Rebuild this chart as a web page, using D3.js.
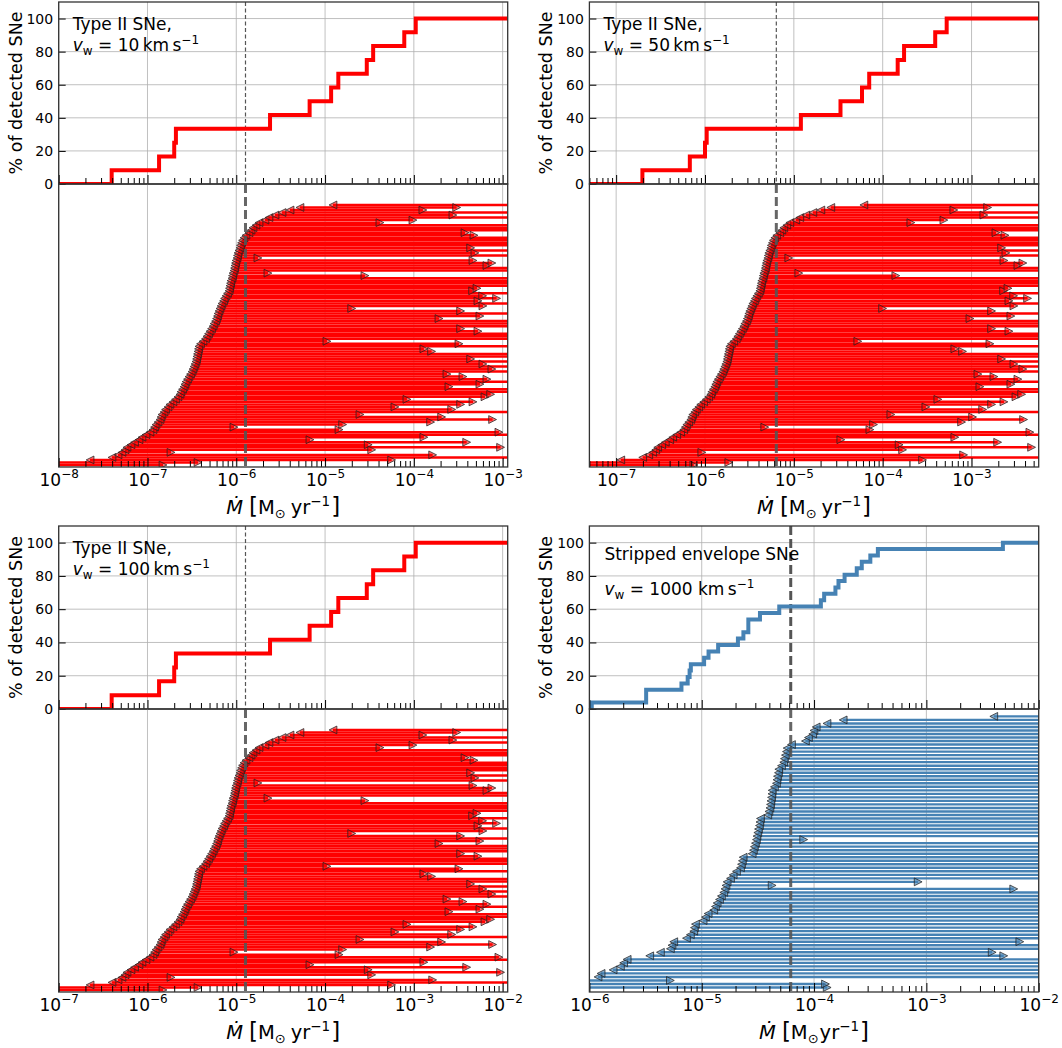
<!DOCTYPE html>
<html>
<head>
<meta charset="utf-8">
<script src="https://cdn.jsdelivr.net/npm/d3@7"></script>
<style>
  body { margin: 0; background: #fff; }
  svg { display: block; }
  text { font-family: "DejaVu Sans", sans-serif; fill: #000; }
</style>
</head>
<body>
<svg id="fig" width="1062" height="1048"></svg>
<script>
// ---------------- data ----------------
// Type II SNe, mass-loss rates for v_w = 10 km/s (other wind speeds scale linearly)
const typeIIDetected = [3.95e-8, 1.35e-7, 2.0e-7, 2.09e-7, 2.4e-6, 6.7e-6,
                        1.17e-5, 1.41e-5, 2.95e-5, 3.48e-5, 7.8e-5, 1.05e-4];
// log10 of lower / upper limits per non-detected SN (null = unconstrained)
const typeIILowerLog = [
  null, null, -7.647, -7.40, -7.332, -7.287, -7.253, -7.231, -7.186, -7.146,
  -7.096, -7.062, -7.017, -6.972, -6.938, -6.921, -6.904, -6.882, -6.859, -6.848,
  -6.837, -6.814, -6.797, -6.769, -6.747, -6.713, -6.685, -6.657, -6.634, -6.623,
  -6.606, -6.589, -6.578, -6.566, -6.550, -6.533, -6.516, -6.499, -6.488, -6.476,
  -6.465, -6.454, -6.448, -6.443, -6.437, -6.431, -6.426, -6.420, -6.403, -6.375,
  -6.347, -6.330, -6.313, -6.296, -6.279, -6.262, -6.251, -6.234, -6.223, -6.212,
  -6.206, -6.195, -6.184, -6.172, -6.161, -6.144, -6.133, -6.116, -6.099, -6.082,
  -6.077, -6.071, -6.065, -6.060, -6.048, -6.043, -6.037, -6.026, -6.020, -6.015,
  -6.009, -6.003, -5.992, -5.987, -5.981, -5.970, -5.958, -5.953, -5.941, -5.930,
  -5.913, -5.891, -5.857, -5.834, -5.812, -5.778, -5.744, -5.677, -5.632, -5.564,
  -5.485, -5.395, -5.283, -4.911];
const typeIIUpperLog = [
  -6.825, -6.431, -4.250, null, -3.788, -6.735, -4.475, -3.023, -4.514, -3.405,
  -5.170, -3.887, null, -3.042, -4.843, -6.026, -4.802, -3.811, -3.113, -3.687,
  -4.607, null, -3.574, -4.213, -3.473, -3.334, -4.078, -3.199, -3.135, null,
  null, -3.605, -3.256, null, -3.177, -3.447, -3.627, null, -3.121, null,
  -3.222, null, -3.360, null, null, -3.800, -3.887, null, -3.492, -4.979,
  null, null, null, -3.278, -3.473, null, null, null, -3.717, -3.256,
  null, -3.473, -4.700, -3.222, null, -3.278, -3.068, -3.225, null, -3.338,
  -3.289, null, null, null, null, -4.551, -5.643, null, null, -3.177,
  -3.121, -3.334, -5.756, null, -3.312, null, -3.360, null, null, null,
  null, -3.323, -3.424, null, null, null, -4.382, -4.010, null, -3.560,
  null, -3.898, -3.518, null];
const typeIIMedian = 1.27e-6;

// Stripped envelope SNe, v_w = 1000 km/s
const strippedDetected = [1.05e-6, 3.2e-6, 3.2e-6, 6.6e-6, 7.5e-6, 7.8e-6, 8.0e-6,
  1.05e-5, 1.15e-5, 1.4e-5, 2.1e-5, 2.35e-5, 2.6e-5, 2.6e-5, 3.3e-5, 4.9e-5,
  1.15e-4, 1.23e-4, 1.55e-4, 1.65e-4, 1.87e-4, 2.4e-4, 2.66e-4, 3.17e-4, 3.7e-4, 4.8e-3];
const strippedLowerLog = [
  null, null, null, -5.923, -5.896, -5.789, -5.724, -5.695, -5.664, -5.463,
  -5.368, -5.279, -5.265, -5.249, -5.136, -5.101, -5.071, -5.065, -5.056, -4.988,
  -4.967, -4.943, -4.893, -4.878, -4.863, -4.842, -4.825, -4.804, -4.793, -4.784,
  -4.774, -4.744, -4.720, -4.691, -4.655, -4.646, -4.638, -4.631, -4.551, -4.540,
  -4.531, -4.522, -4.513, -4.508, -4.501, -4.495, -4.486, -4.482, -4.477, -4.412,
  -4.402, -4.393, -4.388, -4.384, -4.379, -4.375, -4.373, -4.353, -4.335, -4.330,
  -4.326, -4.317, -4.314, -4.290, -4.270, -4.264, -4.255, -4.246, -4.240, -4.201,
  -4.077, -4.050, -4.012, -4.001, -3.981, -3.885, -3.741, -2.400];
const strippedUpperLog = [
  -3.883, -3.898, -5.279, null, null, null, null, null, null, -2.311,
  -2.414, null, null, -2.168, null, null, null, null, null, null,
  null, null, null, null, null, null, null, null, -2.222, -4.373,
  -3.073, null, null, null, null, null, null, null, null, null,
  null, null, -4.092, null, null, null, null, null, null, null,
  null, null, null, null, null, null, null, null, null, null,
  null, null, null, null, null, null, null, null, null, null,
  null, null, null, null, null, null, null, null];
const strippedMedian = 6.2e-5;

const percentTicks = [0, 20, 40, 60, 80, 100];

// ---------------- layout ----------------
const COLS = [[58.7, 507.7], [589.4, 1038.7]];
const ROWS = [{ top: [2, 184], bot: [184, 467] }, { top: [526, 709], bot: [709, 992] }];
const RED = "#ff0000", BLUE = "#4682b4";

const sets = {
  II: { detected: typeIIDetected, lower: typeIILowerLog, upper: typeIIUpperLog,
        median: typeIIMedian, vwRef: 10, color: RED, rowDomain: [-0.8, 111.3],
        barWidth: 2.5, thinMedianTop: true },
  SE: { detected: strippedDetected, lower: strippedLowerLog, upper: strippedUpperLog,
        median: strippedMedian, vwRef: 1000, color: BLUE, rowDomain: [-1.28, 79.1],
        barWidth: 2.4, thinMedianTop: false }
};

const panels = [
  { set: "II", vw: 10,   col: 0, row: 0, xDomain: [1e-8, 1.14e-3], exps: [-8, -7, -6, -5, -4, -3] },
  { set: "II", vw: 50,   col: 1, row: 0, xDomain: [5e-8, 5.7e-3],  exps: [-7, -6, -5, -4, -3] },
  { set: "II", vw: 100,  col: 0, row: 1, xDomain: [1e-7, 1.14e-2], exps: [-7, -6, -5, -4, -3, -2] },
  { set: "SE", vw: 1000, col: 1, row: 1, xDomain: [1e-6, 1e-2],    exps: [-6, -5, -4, -3, -2] }
];

const svg = d3.select("#fig");
const defs = svg.append("defs");
let clipCount = 0;
function clip(x0, y0, x1, y1) {
  const id = "clip" + (clipCount++);
  defs.append("clipPath").attr("id", id).append("rect")
    .attr("x", x0).attr("y", y0).attr("width", x1 - x0).attr("height", y1 - y0);
  return `url(#${id})`;
}

function minorValues(domain) {
  const out = [];
  const k0 = Math.floor(Math.log10(domain[0])), k1 = Math.ceil(Math.log10(domain[1]));
  for (let k = k0; k <= k1; k++)
    for (let m = 2; m <= 9; m++) {
      const v = m * Math.pow(10, k);
      if (v >= domain[0] && v <= domain[1]) out.push(v);
    }
  return out;
}

function triangle(cx, cy, dir, h) {
  // dir = -1 points left, +1 points right
  return `M${cx + dir * h},${cy}L${cx - dir * h},${cy - h}L${cx - dir * h},${cy + h}Z`;
}

function inwardXTicks(g, x, yPix, majors, minors) {
  const major = g.append("g").attr("transform", `translate(0,${yPix})`)
    .call(d3.axisBottom(x).tickValues(majors).tickSize(-9).tickFormat(() => ""));
  const minor = g.append("g").attr("transform", `translate(0,${yPix})`)
    .call(d3.axisBottom(x).tickValues(minors).tickSize(-6).tickFormat(() => ""));
  [major, minor].forEach(a => {
    a.select(".domain").remove();
    a.selectAll("line").attr("stroke", "#000").attr("stroke-width", 1);
  });
  return major;
}

function drawPanel(p) {
  const S = sets[p.set];
  const [x0, x1] = COLS[p.col];
  const R = ROWS[p.row];
  const f = p.vw / S.vwRef;
  const x = d3.scaleLog().domain(p.xDomain).range([x0, x1]);
  const yT = d3.scaleLinear().domain([0, 110]).range([R.top[1], R.top[0]]);
  const yB = d3.scaleLinear().domain(S.rowDomain).range([R.bot[1], R.bot[0]]);
  const majors = p.exps.map(e => Math.pow(10, e));
  const minors = minorValues(p.xDomain);
  const g = svg.append("g");

  // ---- top axes: cumulative fraction of detections ----
  const gt = g.append("g");
  gt.append("g").selectAll("line.v").data(majors).join("line")
    .attr("x1", d => x(d)).attr("x2", d => x(d)).attr("y1", R.top[0]).attr("y2", R.top[1])
    .attr("stroke", "#b0b0b0").attr("stroke-width", 0.8);
  gt.append("g").selectAll("line.h").data(percentTicks).join("line")
    .attr("x1", x0).attr("x2", x1).attr("y1", d => yT(d)).attr("y2", d => yT(d))
    .attr("stroke", "#b0b0b0").attr("stroke-width", 0.8);

  const det = S.detected.map(d => d * f).sort((a, b) => a - b);
  const n = det.length;
  const pts = [[p.xDomain[0], 0]].concat(det.map((d, i) => [d, 100 * (i + 1) / n]), [[p.xDomain[1], 100]]);
  const med = S.median * f;
  gt.append("line")
    .attr("x1", x(med)).attr("x2", x(med)).attr("y1", R.top[0]).attr("y2", R.top[1])
    .attr("stroke", "#555").attr("stroke-width", S.thinMedianTop ? 1.2 : 3)
    .attr("stroke-dasharray", S.thinMedianTop ? "4,2.5" : "9,4");
  gt.append("path").datum(pts)
    .attr("clip-path", clip(x0, R.top[0], x1, R.top[1]))
    .attr("d", d3.line().x(d => x(d[0])).y(d => yT(d[1])).curve(d3.curveStepAfter))
    .attr("fill", "none").attr("stroke", S.color).attr("stroke-width", 4);

  inwardXTicks(gt, x, R.top[1], majors, minors);
  const ya = gt.append("g").attr("transform", `translate(${x0},0)`)
    .call(d3.axisLeft(yT).tickValues(percentTicks).tickSize(-7).tickPadding(5.5));
  ya.select(".domain").remove();
  ya.selectAll("line").attr("stroke", "#000");
  ya.selectAll("text").attr("font-family", "DejaVu Sans").attr("font-size", 14).attr("fill", "#000");
  gt.append("rect").attr("x", x0).attr("y", R.top[0]).attr("width", x1 - x0).attr("height", R.top[1] - R.top[0])
    .attr("fill", "none").attr("stroke", "#333").attr("stroke-width", 1.3);

  // y label
  g.append("text")
    .attr("transform", `translate(${x0 - 37},${(R.top[0] + R.top[1]) / 2}) rotate(-90)`)
    .attr("text-anchor", "middle").attr("font-size", 17.5)
    .text("% of detected SNe");

  // ---- bottom axes: limits per SN ----
  const gb = g.append("g");
  gb.append("g").selectAll("line").data(majors).join("line")
    .attr("x1", d => x(d)).attr("x2", d => x(d)).attr("y1", R.bot[0]).attr("y2", R.bot[1])
    .attr("stroke", "#b0b0b0").attr("stroke-width", 0.8);

  const rows = S.lower.map((lo, i) => ({
    i,
    lo: lo === null ? null : Math.pow(10, lo) * f,
    hi: S.upper[i] === null ? null : Math.pow(10, S.upper[i]) * f
  }));
  const gc = gb.append("g").attr("clip-path", clip(x0, R.bot[0], x1, R.bot[1]));
  gc.append("g").selectAll("line").data(rows).join("line")
    .attr("x1", d => d.lo === null ? x0 - 5 : x(d.lo))
    .attr("x2", d => d.hi === null ? x1 + 5 : x(d.hi))
    .attr("y1", d => yB(d.i)).attr("y2", d => yB(d.i))
    .attr("stroke", S.color).attr("stroke-width", S.barWidth);

  gb.append("line")
    .attr("x1", x(med)).attr("x2", x(med)).attr("y1", R.bot[0]).attr("y2", R.bot[1])
    .attr("stroke", "#555").attr("stroke-opacity", 0.9).attr("stroke-width", 3).attr("stroke-dasharray", "9,4");

  const markerStyle = sel => sel.attr("fill", S.color).attr("fill-opacity", S.color === RED ? 0.55 : 0.65)
    .attr("stroke", "#222").attr("stroke-opacity", 0.75).attr("stroke-width", 1);
  gc.append("g").selectAll("path").data(rows.filter(d => d.lo !== null)).join("path")
    .attr("d", d => triangle(x(d.lo), yB(d.i), -1, 3.9)).call(markerStyle);
  gc.append("g").selectAll("path").data(rows.filter(d => d.hi !== null)).join("path")
    .attr("d", d => triangle(x(d.hi), yB(d.i), 1, 3.9)).call(markerStyle);

  const xa = inwardXTicks(gb, x, R.bot[1], majors, minors);
  xa.selectAll(".tick").each(function (d) {
    const t = d3.select(this).select("text");
    t.text(null).attr("y", 19).attr("dy", null).attr("font-family", "DejaVu Sans")
      .attr("font-size", 17).attr("fill", "#000").attr("text-anchor", "middle");
    t.append("tspan").text("10");
    t.append("tspan").attr("font-size", 12).attr("dy", -8).text("\u2212" + Math.abs(Math.round(Math.log10(d))));
  });
  gb.append("rect").attr("x", x0).attr("y", R.bot[0]).attr("width", x1 - x0).attr("height", R.bot[1] - R.bot[0])
    .attr("fill", "none").attr("stroke", "#333").attr("stroke-width", 1.3);

  // x label
  const xl = g.append("text").attr("x", (x0 + x1) / 2).attr("y", R.bot[1] + 47)
    .attr("text-anchor", "middle").attr("font-size", 19.5);
  xl.append("tspan").attr("font-style", "italic").text("\u1E40");
  xl.append("tspan").attr("font-size", 23).attr("dx", 6).text("[");
  xl.append("tspan").text("M");
  xl.append("tspan").attr("font-size", 13).attr("dy", 4).text("\u2299");
  xl.append("tspan").attr("dy", -4).attr("dx", p.set === "SE" ? 1 : 5).text("yr");
  xl.append("tspan").attr("font-size", 13.5).attr("dy", -8).text("\u22121");
  xl.append("tspan").attr("font-size", 23).attr("dy", 8).attr("dx", 1).text("]");

  // annotation
  const ax = x0 + 14;
  if (p.set === "II") {
    g.append("text").attr("x", ax).attr("y", R.top[0] + 28).attr("font-size", 17).text("Type II SNe,");
    vwText(g, ax, R.top[0] + 49, p.vw, "\u2009");
  } else {
    g.append("text").attr("x", ax + 1).attr("y", R.top[0] + 34).attr("font-size", 17).text("Stripped envelope SNe");
    vwText(g, ax + 1, R.top[0] + 69, p.vw, " ");
  }
}

function vwText(g, x, y, vw, gap) {
  const t = g.append("text").attr("x", x).attr("y", y).attr("font-size", 17);
  t.append("tspan").attr("font-style", "italic").text("v");
  t.append("tspan").attr("font-size", 12).attr("dy", 4).text("w");
  t.append("tspan").attr("dy", -4).text(" = " + vw + gap + "km\u2009s");
  t.append("tspan").attr("font-size", 12).attr("dy", -7).text("\u22121");
}

panels.forEach(drawPanel);
</script>
</body>
</html>
